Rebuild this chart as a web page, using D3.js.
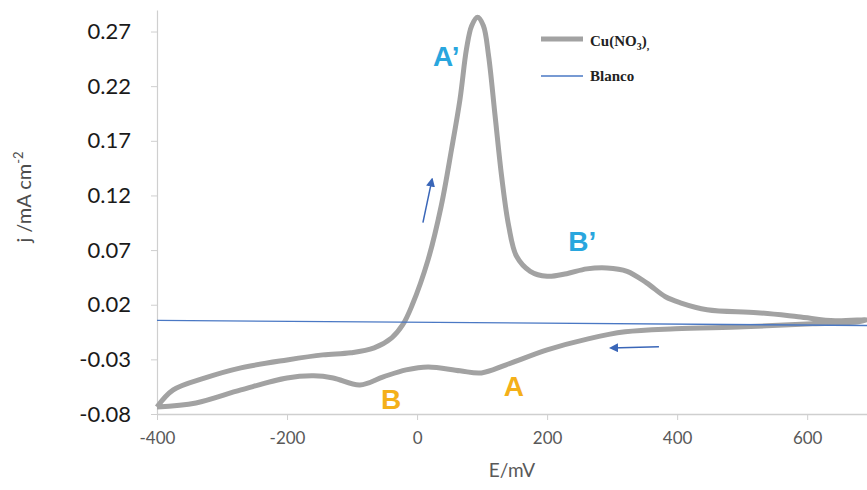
<!DOCTYPE html>
<html>
<head>
<meta charset="utf-8">
<script src="https://cdn.jsdelivr.net/npm/d3@7"></script>
<style>
  body { margin: 0; background: #fff; }
  svg { display: block; }
</style>
</head>
<body>
<div class="cv_chart"></div>
<script>
// anodic sweep, -400 -> 692 mV
var forwardE = [-400, -375, -326, -271, -200, -145, -102, -66, -39, -22, -8, 17, 37, 53, 66, 76, 84, 93, 102, 110, 120, 130, 141, 153, 174, 200, 230, 261, 292, 323, 353, 382, 405, 446, 523, 586, 643, 692];
var forwardJ = [-0.0736, -0.058, -0.047, -0.0378, -0.0305, -0.0259, -0.024, -0.0195, -0.0103, 0.0017, 0.019, 0.0613, 0.110, 0.1622, 0.208, 0.254, 0.2753, 0.283, 0.2753, 0.2478, 0.1928, 0.1377, 0.0918, 0.0643, 0.0506, 0.046, 0.0484, 0.0528, 0.0537, 0.0506, 0.040, 0.0273, 0.0218, 0.0154, 0.0127, 0.009, 0.0053, 0.0062];

// cathodic sweep, 692 -> -400 mV
var reverseE = [692, 679, 608, 503, 397, 320, 263, 200, 137, 99, 66, 17, -17, -52, -88, -129, -159, -200, -271, -340, -400];
var reverseJ = [0.0062, 0.0044, 0.0026, -0.0002, -0.002, -0.0048, -0.0112, -0.0213, -0.035, -0.0424, -0.0405, -0.0369, -0.0396, -0.046, -0.0534, -0.047, -0.0451, -0.047, -0.058, -0.0699, -0.0736];

var blancoE = [-400, 692];
var blancoJ = [0.0056, 0.001];

var xTicks = [-400, -200, 0, 200, 400, 600];
var yTicks = [-0.08, -0.03, 0.02, 0.07, 0.12, 0.17, 0.22, 0.27];

var peakLabels = ["A'", "B'", "A", "B"];
var peakLabelE = [45, 254, 149, -40];
var peakLabelJ = [0.2475, 0.0787, -0.0543, -0.0662];
var peakLabelColor = ["#29a6de", "#29a6de", "#f4b019", "#f4b019"];

// arrows: [E start, j start, E end, j end]
var arrowUp = [9, 0.0952, 23, 0.1347];
var arrowLeft = [372, -0.0185, 298, -0.0195];

var width = 867, height = 490;
var margin = {left: 157, right: 0, top: 10, bottom: 76};

var svg = d3.select(".cv_chart").append("svg")
    .attr("width", width)
    .attr("height", height);

var x = d3.scaleLinear()
    .domain([-400, 692])
    .range([margin.left, width - margin.right]);

var y = d3.scaleLinear()
    .domain([-0.08, 0.2897])
    .range([height - margin.bottom, margin.top]);

// plain hyphen for negatives, like the original
var locale = d3.formatLocale({decimal: ".", thousands: ",", grouping: [3], currency: ["", ""], minus: "-"});

var defs = svg.append("defs");
defs.append("marker")
    .attr("id", "head")
    .attr("viewBox", "0 0 10 10")
    .attr("refX", 8)
    .attr("refY", 5)
    .attr("markerWidth", 9)
    .attr("markerHeight", 9)
    .attr("markerUnits", "userSpaceOnUse")
    .attr("orient", "auto")
  .append("path")
    .attr("d", "M0,0 L10,5 L0,10 Z")
    .attr("fill", "#3a66b8");

// x axis
var xAxis = svg.append("g")
    .attr("transform", "translate(0," + y(-0.08) + ")")
    .call(d3.axisBottom(x).tickValues(xTicks).tickSize(6).tickSizeOuter(0).tickPadding(12)
      .tickFormat(locale.format("d")));
xAxis.select(".domain").attr("stroke", "#cfcfcf").attr("stroke-width", 1.5);
xAxis.selectAll(".tick line").attr("stroke", "#cfcfcf");
xAxis.selectAll(".tick text")
    .attr("fill", "#595959")
    .style("font-family", "Lato, 'Open Sans', sans-serif")
    .style("font-size", "17px");

// y axis
var yAxis = svg.append("g")
    .attr("transform", "translate(" + x(-400) + ",0)")
    .call(d3.axisLeft(y).tickValues(yTicks).tickSize(6).tickSizeOuter(0).tickPadding(20)
      .tickFormat(locale.format(".2f")));
yAxis.select(".domain").attr("stroke", "#cfcfcf").attr("stroke-width", 1.2);
yAxis.selectAll(".tick line").attr("stroke", "#cfcfcf");
yAxis.selectAll(".tick text")
    .attr("fill", "#1a1a1a")
    .style("font-family", "Lato, 'Open Sans', sans-serif")
    .style("font-size", "22px");

// axis titles
svg.append("text")
    .attr("x", (x.range()[0] + x.range()[1]) / 2)
    .attr("y", 477)
    .attr("text-anchor", "middle")
    .attr("fill", "#595959")
    .style("font-family", "Lato, 'Open Sans', sans-serif")
    .style("font-size", "19px")
    .text("E/mV");

var yTitle = svg.append("text")
    .attr("transform", "translate(31,197) rotate(-90)")
    .attr("text-anchor", "middle")
    .attr("fill", "#4d4d4d")
    .style("font-family", "Lato, 'Open Sans', sans-serif")
    .style("font-size", "20px");
yTitle.append("tspan").text("j /mA cm");
yTitle.append("tspan").attr("dy", -8).style("font-size", "13px").text("-2");

// curves
var line = d3.line()
    .x(function(d) { return x(d[0]); })
    .y(function(d) { return y(d[1]); })
    .curve(d3.curveCatmullRom.alpha(0.5));

var blanco = blancoE.map(function(e, i) { return [e, blancoJ[i]]; });
var loop = forwardE.map(function(e, i) { return [e, forwardJ[i]]; })
    .concat(reverseE.slice(1).map(function(e, i) { return [e, reverseJ[i + 1]]; }));

svg.append("path")
    .datum(loop)
    .attr("d", line)
    .attr("fill", "none")
    .attr("stroke", "#a2a2a2")
    .attr("stroke-width", 5)
    .attr("stroke-linejoin", "round");

svg.append("path")
    .datum(blanco)
    .attr("d", d3.line().x(function(d) { return x(d[0]); }).y(function(d) { return y(d[1]); }))
    .attr("fill", "none")
    .attr("stroke", "#4a78c4")
    .attr("stroke-width", 1.3);

// peak labels
svg.append("g").selectAll("text")
    .data(peakLabels)
    .enter().append("text")
    .attr("x", function(d, i) { return x(peakLabelE[i]); })
    .attr("y", function(d, i) { return y(peakLabelJ[i]); })
    .attr("dy", "0.36em")
    .attr("text-anchor", "middle")
    .attr("fill", function(d, i) { return peakLabelColor[i]; })
    .style("font-family", "'Liberation Sans', Arial, sans-serif")
    .style("font-weight", "bold")
    .style("font-size", "28px")
    .text(function(d) { return d.replace("'", "\u2019"); });

// sweep arrows
[arrowUp, arrowLeft].forEach(function(a) {
  svg.append("line")
      .attr("x1", x(a[0])).attr("y1", y(a[1]))
      .attr("x2", x(a[2])).attr("y2", y(a[3]))
      .attr("stroke", "#3a66b8")
      .attr("stroke-width", 1.5)
      .attr("marker-end", "url(#head)");
});

// legend
var legend = svg.append("g").attr("transform", "translate(541,0)");
legend.append("line")
    .attr("x1", 0).attr("x2", 42).attr("y1", 39).attr("y2", 39)
    .attr("stroke", "#a2a2a2").attr("stroke-width", 5);
legend.append("line")
    .attr("x1", 0).attr("x2", 42).attr("y1", 76).attr("y2", 76)
    .attr("stroke", "#4a78c4").attr("stroke-width", 1.3);

var cuText = legend.append("text")
    .attr("x", 49).attr("y", 46)
    .attr("fill", "#222")
    .style("font-family", "'Liberation Serif', 'DejaVu Serif', serif")
    .style("font-weight", "bold")
    .style("font-size", "15px");
cuText.append("tspan").text("Cu(NO");
cuText.append("tspan").attr("dy", 4).style("font-size", "10px").text("3");
cuText.append("tspan").attr("dy", -4).text(")");
cuText.append("tspan").attr("dy", 4).style("font-size", "10px").text(",");

legend.append("text")
    .attr("x", 49).attr("y", 81)
    .attr("fill", "#222")
    .style("font-family", "'Liberation Serif', 'DejaVu Serif', serif")
    .style("font-weight", "bold")
    .style("font-size", "15px")
    .text("Blanco");
</script>
</body>
</html>
